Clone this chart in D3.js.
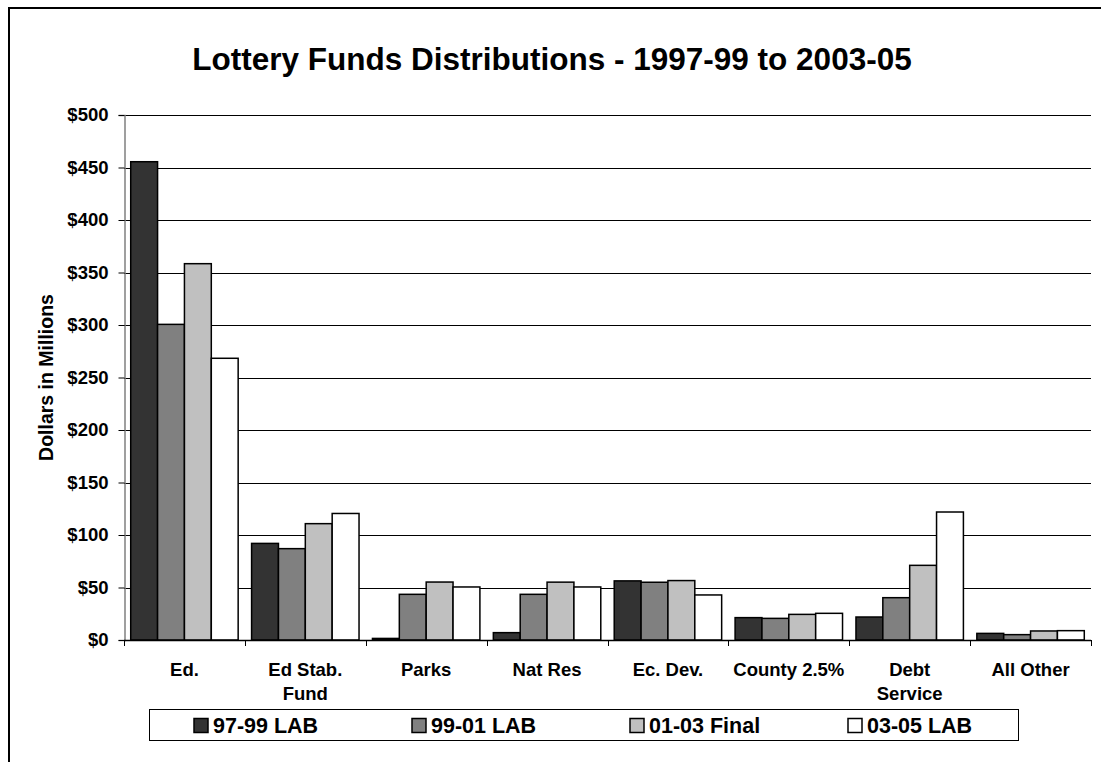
<!DOCTYPE html>
<html>
<head>
<meta charset="utf-8">
<script src="https://cdn.jsdelivr.net/npm/d3@7"></script>
<style>
  body { margin: 0; background: #fff; }
  svg { display: block; font-family: Arial, "Liberation Sans", sans-serif; font-weight: bold; }
</style>
</head>
<body>
<svg id="chart" width="1101" height="762"></svg>
<script>
// categories and series (millions of dollars)
const categories = ['Ed.', 'Ed Stab.|Fund', 'Parks', 'Nat Res', 'Ec. Dev.', 'County 2.5%', 'Debt|Service', 'All Other']
const seriesNames = ['97-99 LAB', '99-01 LAB', '01-03 Final', '03-05 LAB']
const lab9799 = [455.5, 92, 1.5, 7, 56.3, 21.3, 21.9, 6.3]
const lab9901 = [300.6, 87, 43.5, 43.5, 55, 20.6, 40.3, 5.1]
const final0103 = [358.4, 110.8, 55.2, 55.1, 56.6, 24.4, 71.1, 8.6]
const lab0305 = [268.3, 120.5, 50.5, 50.5, 42.9, 25.4, 121.9, 8.9]
const yTicks = [0, 50, 100, 150, 200, 250, 300, 350, 400, 450, 500]
const fills = ['#333333', '#808080', '#c0c0c0', '#ffffff']

const allSeries = [lab9799, lab9901, final0103, lab0305]

const svg = d3.select('#chart')
const plot = { left: 124, right: 1091, top: 115, bottom: 640 }

// outer chart frame (only top and left edges are inside the picture)
svg.append('path')
  .attr('d', 'M9,762 L9,8 L1101,8')
  .attr('fill', 'none')
  .attr('stroke', '#000')
  .attr('stroke-width', 2)

svg.append('text')
  .attr('x', 552)
  .attr('y', 70)
  .attr('text-anchor', 'middle')
  .style('font-size', '31.5px')
  .text('Lottery Funds Distributions - 1997-99 to 2003-05')

const x0 = d3.scaleBand()
  .domain(categories)
  .range([plot.left, plot.right])
  .paddingInner(0)
  .paddingOuter(0)

// Excel gap width 50% -> half a bar on each side of the group
const x1 = d3.scaleBand()
  .domain(d3.range(seriesNames.length))
  .range([0, x0.bandwidth()])
  .paddingInner(0)
  .paddingOuter(0.25)

const y = d3.scaleLinear()
  .domain([0, 500])
  .range([plot.bottom, plot.top])

// gridlines
svg.append('g')
  .selectAll('line')
  .data(yTicks.filter((d) => d > 0))
  .join('line')
  .attr('x1', plot.left)
  .attr('x2', plot.right)
  .attr('y1', (d) => Math.round(y(d)) + 0.5)
  .attr('y2', (d) => Math.round(y(d)) + 0.5)
  .attr('stroke', '#000')
  .attr('stroke-width', 1)

// bars
const groups = svg.append('g')
  .selectAll('g')
  .data(categories)
  .join('g')
  .attr('transform', (d) => `translate(${x0(d)},0)`)

groups.selectAll('rect')
  .data((d, i) => allSeries.map((s, j) => ({ j, v: s[i] })))
  .join('rect')
  .attr('x', (d) => x1(d.j))
  .attr('width', x1.bandwidth())
  .attr('y', (d) => y(d.v))
  .attr('height', (d) => y(0) - y(d.v))
  .attr('fill', (d) => fills[d.j])
  .attr('stroke', '#000')
  .attr('stroke-width', 1.5)

// y axis
const yAxis = svg.append('g')
  .attr('transform', `translate(${plot.left + 0.5},0)`)
  .call(d3.axisLeft(y).tickValues(yTicks).tickSize(6).tickPadding(10).tickFormat((d) => '$' + d))
yAxis.select('.domain').attr('stroke', '#808080').attr('stroke-width', 1.5)
yAxis.selectAll('.tick line').attr('stroke', '#000')
yAxis.selectAll('.tick text')
  .attr('fill', '#000')
  .style('font-size', '18.5px')
  .style('font-family', 'Arial, "Liberation Sans", sans-serif')
  .style('font-weight', 'bold')

// x axis line and ticks at category boundaries
svg.append('line')
  .attr('x1', plot.left)
  .attr('x2', plot.right)
  .attr('y1', plot.bottom + 0.5)
  .attr('y2', plot.bottom + 0.5)
  .attr('stroke', '#000')
  .attr('stroke-width', 1.5)

svg.append('g')
  .selectAll('line')
  .data(categories.map((c) => x0(c)).concat([plot.right]))
  .join('line')
  .attr('x1', (d) => Math.round(d) + 0.5)
  .attr('x2', (d) => Math.round(d) + 0.5)
  .attr('y1', plot.bottom)
  .attr('y2', plot.bottom + 6)
  .attr('stroke', '#000')

// category labels
const catLabels = svg.append('g')
  .selectAll('text')
  .data(categories)
  .join('text')
  .attr('x', (d) => x0(d) + x0.bandwidth() / 2)
  .attr('y', 676)
  .attr('text-anchor', 'middle')
  .style('font-size', '18.5px')

catLabels.selectAll('tspan')
  .data((d) => d.split('|'))
  .join('tspan')
  .attr('x', function () { return d3.select(this.parentNode).attr('x') })
  .attr('dy', (d, i) => (i === 0 ? 0 : 24))
  .text((d) => d)

// y axis title
svg.append('text')
  .attr('transform', `translate(53,${(plot.top + plot.bottom) / 2}) rotate(-90)`)
  .attr('text-anchor', 'middle')
  .style('font-size', '19.5px')
  .text('Dollars in Millions')

// legend
const legend = svg.append('g')
legend.append('rect')
  .attr('x', 149.5)
  .attr('y', 709.5)
  .attr('width', 869)
  .attr('height', 31)
  .attr('fill', '#fff')
  .attr('stroke', '#000')
  .attr('stroke-width', 1)

const legendX = d3.scalePoint()
  .domain(seriesNames)
  .range([194, 848])

const items = legend.selectAll('g.item')
  .data(seriesNames)
  .join('g')
  .attr('class', 'item')
  .attr('transform', (d) => `translate(${legendX(d)},0)`)

items.append('rect')
  .attr('x', 0)
  .attr('y', 718.5)
  .attr('width', 14)
  .attr('height', 14)
  .attr('fill', (d, i) => fills[i])
  .attr('stroke', '#000')
  .attr('stroke-width', 1.5)

items.append('text')
  .attr('x', 19)
  .attr('y', 733)
  .style('font-size', '21.5px')
  .text((d) => d)
</script>
</body>
</html>
